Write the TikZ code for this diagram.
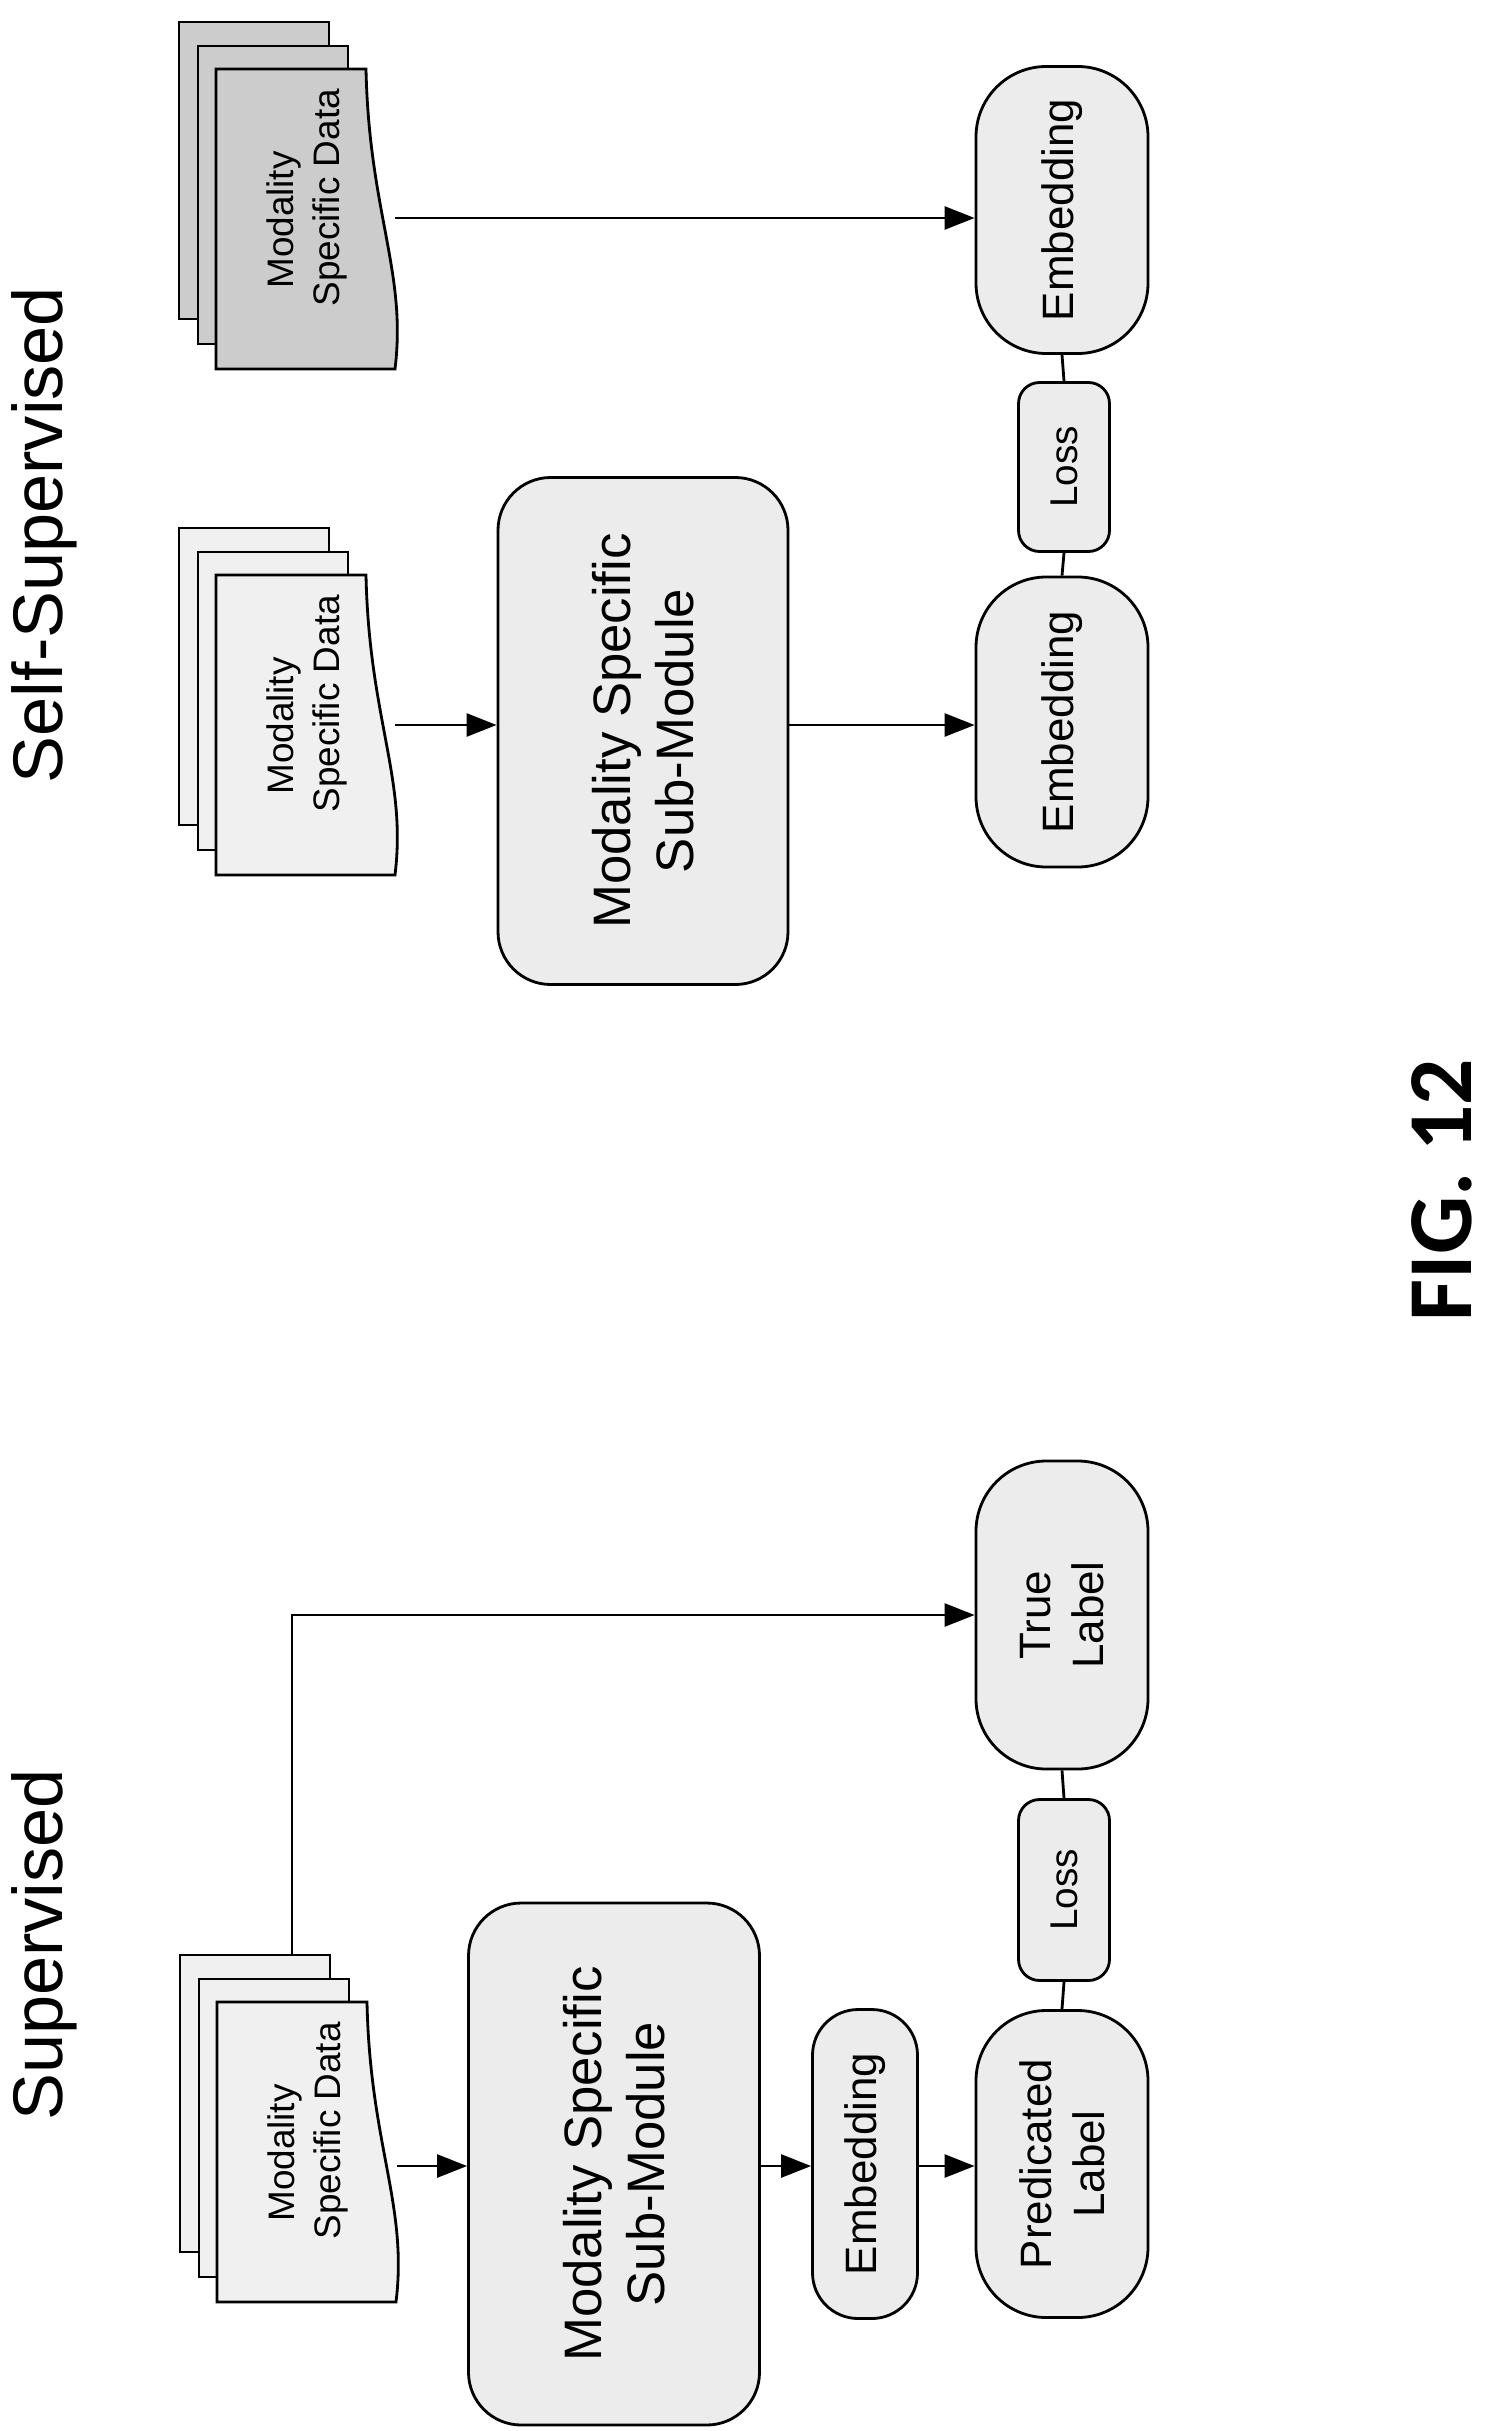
\documentclass[tikz,border=0pt]{standalone}
\usepackage{fontspec}
\setmainfont{Liberation Sans}
\newfontfamily\figfont{Carlito}
\usetikzlibrary{arrows.meta,calc}
\begin{document}
\begin{tikzpicture}[x=0.2mm,y=-0.2mm,
  box/.style={draw,line width=1.6pt,fill=#1,rotate=90,inner sep=0pt,align=center},
  box/.default=gray!15,
  arr/.style={line width=1.6pt,-{Triangle[length=17pt,width=13pt]}},
  ln/.style={line width=1.6pt},
  pg/.style={draw,line width=1.6pt,fill=#1},
  pg/.default=gray!15]
\useasboundingbox (0,0) rectangle (1494,2431);
% titles
\node[rotate=90,font=\fontsize{40}{48}\selectfont] (t1) at (44,535) {Self-Supervised};
\node[rotate=90,font=\fontsize{40}{48}\selectfont] (t2) at (44,1945) {Supervised};
\node[rotate=90,font=\figfont\bfseries\fontsize{52}{58}\selectfont] (fig) at (1442,1190) {FIG. 12};
% stacks
\newcommand{\docstack}[4]{%
  \begin{scope}[shift={(#1,#2)}]
  \draw[pg=#3] (0,0) rectangle (150,297);
  \draw[pg=#3] (19,24) rectangle (169,322);
  \draw[pg=#3] (37,47) -- (187,47) .. controls (190,190) and (228,250) .. (216,347) -- (37,347) -- cycle;
  \end{scope}
  \node[rotate=90,align=center,font=\fontsize{21}{26}\selectfont] (#4) at ($(#1,#2)+(128,198)$) {Modality\\\hspace*{1.2em}Specific Data};}
\docstack{179}{22}{gray!40}{dA}
\docstack{179}{528}{gray!12}{dB}
\docstack{180}{1955}{gray!12}{dC}
\coordinate (dAe) at (395,218);
\coordinate (dBe) at (395,725);
\coordinate (dCe) at (397,2166);
\coordinate (dCt) at (292,1955);
% self-supervised
\node[box,rounded corners=40pt,minimum width=287*0.2mm,minimum height=172*0.2mm,font=\fontsize{25}{30}\selectfont] (eA) at (1062,210) {Embedding};
\node[box,rounded corners=12pt,minimum width=169*0.2mm,minimum height=91*0.2mm,font=\fontsize{22}{26}\selectfont] (lA) at (1064,467) {Loss};
\node[box,rounded corners=40pt,minimum width=290*0.2mm,minimum height=172*0.2mm,font=\fontsize{25}{30}\selectfont] (eB) at (1062,722) {Embedding};
\node[box,rounded corners=30pt,minimum width=507*0.2mm,minimum height=290*0.2mm,font=\fontsize{30}{36}\selectfont] (mB) at (643,731) {Modality Specific\\Sub-Module};
\draw[arr] (dAe) -- (dAe -| eA.north);
\draw[arr] (dBe) -- (dBe -| mB.north);
\draw[arr] (mB.south |- dBe) -- (dBe -| eB.north);
\draw[ln] (eA.west) -- (lA.east);
\draw[ln] (lA.west) -- (eB.east);
% supervised
\node[box,rounded corners=30pt,minimum width=522*0.2mm,minimum height=291*0.2mm,font=\fontsize{30}{36}\selectfont] (mC) at (614,2164) {Modality Specific\\Sub-Module};
\node[box,rounded corners=26pt,minimum width=309*0.2mm,minimum height=105*0.2mm,font=\fontsize{25}{30}\selectfont] (eC) at (865,2164) {Embedding};
\node[box,rounded corners=40pt,minimum width=307*0.2mm,minimum height=172*0.2mm,font=\fontsize{25}{30}\selectfont] (pC) at (1062,2164) {Predicated\\Label};
\node[box,rounded corners=12pt,minimum width=181*0.2mm,minimum height=91*0.2mm,font=\fontsize{22}{26}\selectfont] (lC) at (1064,1890) {Loss};
\node[box,rounded corners=40pt,minimum width=308*0.2mm,minimum height=172*0.2mm,font=\fontsize{25}{30}\selectfont] (tC) at (1062,1615) {True\\Label};
\draw[arr] (dCe) -- (dCe -| mC.north);
\draw[arr] (mC.south |- dCe) -- (dCe -| eC.north);
\draw[arr] (eC.south |- dCe) -- (dCe -| pC.north);
\draw[arr] (dCt) |- (tC.north);
\draw[ln] (tC.west) -- (lC.east);
\draw[ln] (lC.west) -- (pC.east);
\end{tikzpicture}
\end{document}
